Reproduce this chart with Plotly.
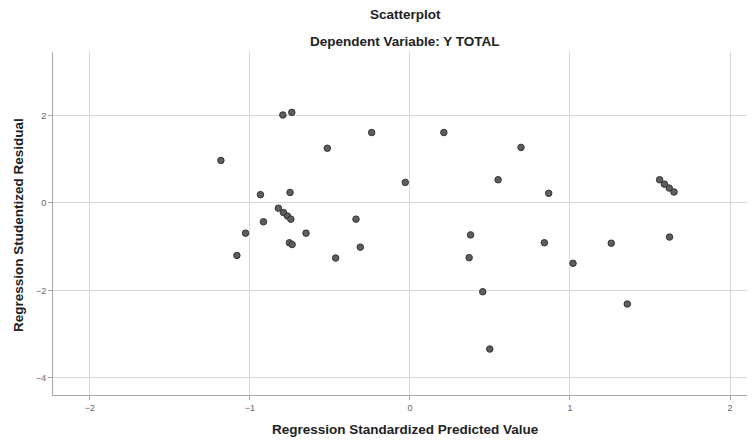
import plotly.graph_objects as go

# Regression Standardized Predicted Value
pred = [-1.181, -0.794, -0.738, -0.516, -0.239, 0.212, -0.029, -0.934, -0.749,
        -0.822, -0.790, -0.765, -0.744, -0.915, -1.027, -0.649, -0.753, -0.736,
        -1.081, -0.464, -0.337, -0.310, 0.694, 0.551, 0.867, 0.379, 0.370,
        0.840, 1.019, 0.455, 0.499, 1.560, 1.590, 1.620, 1.650, 1.622, 1.258, 1.358]
# Regression Studentized Residual
resid = [0.97, 2.01, 2.07, 1.25, 1.61, 1.61, 0.47, 0.19, 0.24,
         -0.12, -0.22, -0.30, -0.37, -0.43, -0.69, -0.69, -0.91, -0.95,
         -1.20, -1.26, -0.37, -1.01, 1.27, 0.53, 0.22, -0.73, -1.25,
         -0.91, -1.38, -2.03, -3.34, 0.53, 0.43, 0.34, 0.25, -0.78, -0.92, -2.31]

x_ticks = [-2, -1, 0, 1, 2]
y_ticks = [-4, -2, 0, 2]

OFF = 8  # page body margin
W, H = 755 - OFF, 442 - OFF
# plot area in page pixels: left 53, top 52, bottom 395, right 755
L, T = 53 - OFF, 52 - OFF
R = 0
B = H - (395 - OFF)
pw, ph = W - L - R, H - T - B

fig = go.Figure()
fig.add_trace(go.Scatter(
    x=pred, y=resid, mode="markers",
    marker=dict(size=6.5, color="#5e5e5e", line=dict(color="#333333", width=1)),
    showlegend=False, hoverinfo="skip"))

font_family = "Liberation Sans, Arial, sans-serif"
axis_common = dict(showgrid=True, gridcolor="#d8d8d8", gridwidth=1, zeroline=False,
                   showline=True, linecolor="#a8a8a8", linewidth=1,
                   ticks="outside", ticklen=4, tickcolor="#a8a8a8",
                   tickfont=dict(size=9, color="#666"), automargin=False)
fig.update_layout(
    width=W, height=H,
    margin=dict(l=L, r=R, t=T, b=B),
    paper_bgcolor="white", plot_bgcolor="white",
    font=dict(family=font_family, color="#222"),
    xaxis=dict(range=[-2.23, 2.156], tickvals=x_ticks, **axis_common),
    yaxis=dict(range=[-4.39, 3.45], tickvals=y_ticks, **axis_common),
)

cx = (405 - 53) / pw
TF = 13.5
fig.add_annotation(text="<b>Scatterplot</b>", x=cx, xref="paper", y=1, yref="paper",
                   yanchor="middle", yshift=52 - 14, showarrow=False,
                   font=dict(size=TF, color="#222"))
fig.add_annotation(text="<b>Dependent Variable: Y TOTAL</b>", x=cx, xref="paper", y=1,
                   yref="paper", yanchor="middle", yshift=52 - 41, showarrow=False,
                   font=dict(size=TF, color="#222"))
fig.add_annotation(text="<b>Regression Standardized Predicted Value</b>", x=cx, xref="paper",
                   y=0, yref="paper", yanchor="middle", yshift=-(429 - 395),
                   showarrow=False, font=dict(size=TF, color="#222"))
fig.add_annotation(text="<b>Regression Studentized Residual</b>", x=0, xref="paper",
                   xanchor="center", xshift=-(53 - 19), y=(395 - 225) / ph, yref="paper",
                   textangle=-90, showarrow=False, font=dict(size=TF, color="#222"))

fig.write_html("out.html")
